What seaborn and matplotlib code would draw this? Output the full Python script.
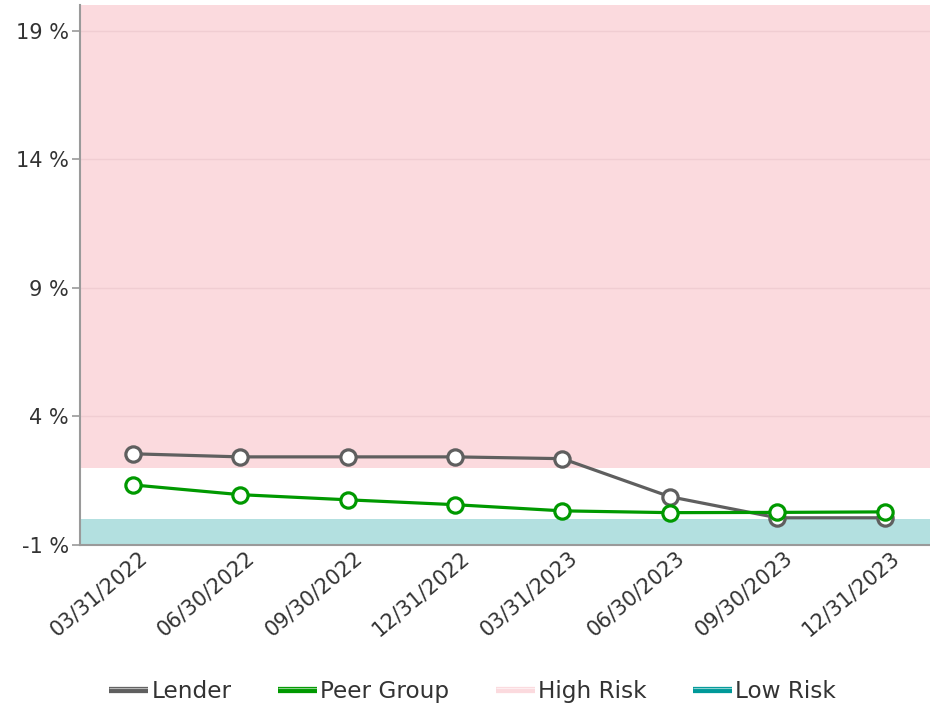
import matplotlib
matplotlib.use("Agg")
import matplotlib.pyplot as plt
import matplotlib.transforms as mtransforms
import matplotlib.patheffects as pe
from matplotlib.lines import Line2D
import seaborn as sns
import pandas as pd

quarters = ["03/31/2022", "06/30/2022", "09/30/2022", "12/31/2022",
            "03/31/2023", "06/30/2023", "09/30/2023", "12/31/2023"]
lender = [2.54, 2.42, 2.42, 2.42, 2.35, 0.87, 0.05, 0.05]
peer_group = [1.33, 0.95, 0.75, 0.56, 0.32, 0.25, 0.26, 0.28]
high_risk = (2.0, 20.0)
low_risk = (-1.0, 0.0)
y_ticks = [-1, 4, 9, 14, 19]

series_names = ["Lender", "Peer Group"]
colors = {"Lender": "#5f5f5f", "Peer Group": "#009900"}
high_color = "#fbdade"
low_color = "#b3e0e0"
low_legend_color = "#009999"

df = pd.DataFrame({
    "quarter": quarters * 2,
    "value": lender + peer_group,
    "series": ["Lender"] * len(quarters) + ["Peer Group"] * len(quarters),
})

sns.set_style("white")
plt.rcParams["font.family"] = ["DejaVu Sans"]

fig = plt.figure(figsize=(9.3, 7.14), dpi=100)
ax = fig.add_axes([0.086, 0.237, 0.914, 0.756])

ax.axhspan(*high_risk, color=high_color, zorder=0, lw=0)
ax.axhspan(*low_risk, color=low_color, zorder=0, lw=0)

sns.lineplot(data=df, x="quarter", y="value", hue="series",
             palette=colors, hue_order=series_names, sort=False,
             marker="o", markersize=11, markerfacecolor="white",
             markeredgewidth=2.3, linewidth=2.3, legend=False,
             ax=ax, zorder=3)
for line in ax.lines:
    line.set_markeredgecolor(line.get_color())

ax.set_xlim(-0.49, len(quarters) - 0.58)
ax.set_ylim(-1, 20)
ax.set_yticks(y_ticks)
ax.set_yticklabels([f"{t} %" for t in y_ticks])
ax.set_xticks(range(len(quarters)))
ax.set_xticklabels([])
ax.set_xlabel("")
ax.set_ylabel("")

# slanted date labels, nudged so each one ends just right of its tick
shift = mtransforms.ScaledTranslation(0.12, -0.10, fig.dpi_scale_trans)
label_tr = ax.get_xaxis_transform() + shift
for i, q in enumerate(quarters):
    ax.text(i, 0, q, transform=label_tr, rotation=40, ha="right",
            va="center", rotation_mode="anchor", fontsize=15,
            color="#333333", clip_on=False)

ax.yaxis.grid(True, color="#f0cdd2", linewidth=1.0, zorder=1)
ax.set_axisbelow(True)

for side in ["top", "right"]:
    ax.spines[side].set_visible(False)
for side in ["left", "bottom"]:
    ax.spines[side].set_color("#9a9a9a")
    ax.spines[side].set_linewidth(1.5)
    ax.spines[side].set_zorder(4)

ax.tick_params(axis="y", which="major", left=True, length=6, width=1.2,
               color="#9a9a9a", labelsize=15, labelcolor="#333333", pad=2)
ax.tick_params(axis="x", which="major", bottom=False, length=0)

# legend swatches: thick bars with a thin light sheen along the top edge
sheen = [pe.Normal(),
         pe.SimpleLineShadow(offset=(0, 1.2), shadow_color="white",
                             alpha=0.55, rho=1.0, linewidth=0.8)]
legend_colors = [colors["Lender"], colors["Peer Group"], high_color,
                 low_legend_color]
handles = [Line2D([], [], color=c, lw=4.5, solid_capstyle="butt",
                  path_effects=sheen) for c in legend_colors]
labels = ["Lender", "Peer Group", "High Risk", "Low Risk"]
leg = fig.legend(handles, labels, loc="center", bbox_to_anchor=(0.508, 0.032),
                 ncol=4, frameon=False, fontsize=16.7, handlelength=1.7,
                 handletextpad=0.12, columnspacing=2.0)
for t in leg.get_texts():
    t.set_color("#333333")

fig.savefig("out.png", dpi=100)
